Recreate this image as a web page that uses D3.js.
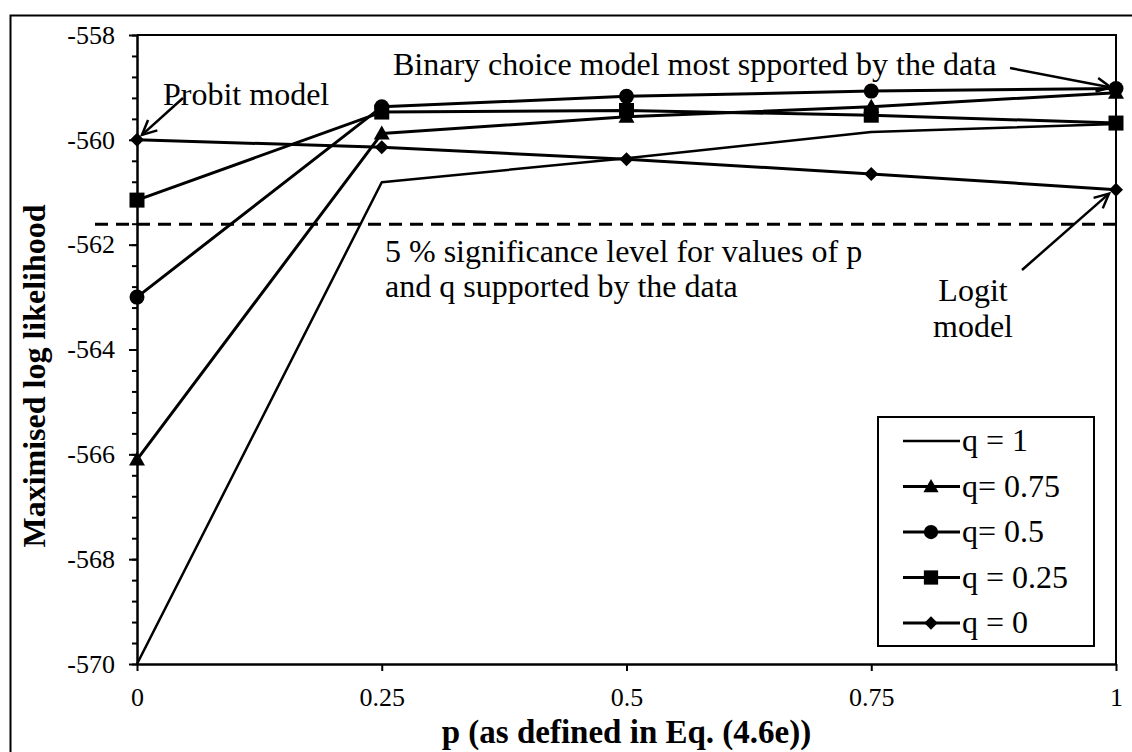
<!DOCTYPE html>
<html>
<head>
<meta charset="utf-8">
<script src="https://cdn.jsdelivr.net/npm/d3@7"></script>
<style>
  html, body { margin: 0; padding: 0; background: #fff; }
  svg { display: block; }
  text { font-family: "Liberation Serif", "Times New Roman", serif; fill: #000; }
</style>
</head>
<body>
<svg id="chart" width="1132" height="752"></svg>
<script>
// p values along the horizontal axis and tick labels
const pValues = [0, 0.25, 0.5, 0.75, 1];
const xTickLabels = ["0", "0.25", "0.5", "0.75", "1"];
const yTickValues = [-558, -560, -562, -564, -566, -568, -570];
const yTickLabels = ["-558", "-560", "-562", "-564", "-566", "-568", "-570"];

// maximised log likelihood for each q
const seriesNames = ["q = 1", "q= 0.75", "q= 0.5", "q = 0.25", "q = 0"];
const seriesMarkers = ["none", "triangle", "circle", "square", "diamond"];
const llQ1   = [-570.0, -560.81, -560.35, -559.85, -559.70];
const llQ075 = [-566.1, -559.88, -559.56, -559.37, -559.10];
const llQ05  = [-563.0, -559.37, -559.17, -559.07, -559.02];
const llQ025 = [-561.15, -559.47, -559.44, -559.53, -559.68];
const llQ0   = [-560.0, -560.14, -560.37, -560.65, -560.95];

// 5 % significance threshold
const significanceLevel = -561.61;

const seriesValues = [llQ1, llQ075, llQ05, llQ025, llQ0];

const svg = d3.select("#chart");
const W = 1132, H = 752;
const plotL = 137, plotR = 1116, plotT = 35, plotB = 664;

const x = d3.scaleLinear().domain([0, 1]).range([plotL, plotR]);
const y = d3.scaleLinear().domain([-570, -558]).range([plotB, plotT]);

// outer frame
svg.append("path")
  .attr("d", `M10.5,${H} V15.5 H${W}`)
  .attr("fill", "none").attr("stroke", "#000").attr("stroke-width", 2);

// plot box: top and right edges
svg.append("path")
  .attr("d", `M${plotL},${plotT} H${plotR} V${plotB}`)
  .attr("fill", "none").attr("stroke", "#000").attr("stroke-width", 2);

// dashed significance line
svg.append("line")
  .attr("x1", 95).attr("x2", plotR)
  .attr("y1", y(significanceLevel)).attr("y2", y(significanceLevel))
  .attr("stroke", "#000").attr("stroke-width", 3)
  .attr("stroke-dasharray", "13,8");

// minor y ticks
const minorTicks = d3.range(0, 31).map(i => -570 + i * 0.4);
svg.append("g")
  .attr("transform", `translate(${plotL},0)`)
  .call(d3.axisLeft(y).tickValues(minorTicks).tickSize(5).tickSizeOuter(0).tickFormat(""))
  .call(g => g.select(".domain").remove())
  .call(g => g.selectAll("line").attr("stroke-width", 2).attr("x2", -5).attr("x1", 1));

// y axis
svg.append("g")
  .attr("transform", `translate(${plotL},0)`)
  .call(d3.axisLeft(y).tickValues(yTickValues).tickSize(8).tickSizeOuter(0)
    .tickFormat((d, i) => yTickLabels[i]).tickPadding(14))
  .call(g => g.select(".domain").attr("stroke-width", 2.5))
  .call(g => g.selectAll("line").attr("stroke-width", 2).attr("x1", 1))
  .call(g => g.selectAll("text")
    .style("font-family", "Liberation Serif").style("font-size", "26px"));

// x axis
svg.append("g")
  .attr("transform", `translate(0,${plotB})`)
  .call(d3.axisBottom(x).tickValues(pValues).tickSize(7).tickSizeOuter(0)
    .tickFormat((d, i) => xTickLabels[i]).tickPadding(17))
  .call(g => g.select(".domain").attr("stroke-width", 2.5))
  .call(g => g.selectAll("line").attr("stroke-width", 2))
  .call(g => g.selectAll("text")
    .style("font-family", "Liberation Serif").style("font-size", "26px"));

// axis titles
svg.append("text")
  .attr("x", (plotL + plotR) / 2).attr("y", 743)
  .attr("text-anchor", "middle")
  .style("font-size", "33px").style("font-weight", "bold")
  .text("p (as defined in Eq. (4.6e))");

svg.append("text")
  .attr("transform", `translate(45,376) rotate(-90)`)
  .attr("text-anchor", "middle")
  .style("font-size", "32px").style("font-weight", "bold")
  .text("Maximised log likelihood");

// marker drawing
function drawMarker(g, type, cx, cy, scale) {
  const s = scale || 1;
  if (type === "circle") {
    g.append("circle").attr("cx", cx).attr("cy", cy).attr("r", 7.5 * s).attr("fill", "#000");
  } else if (type === "square") {
    const h = 7.5 * s;
    g.append("rect").attr("x", cx - h).attr("y", cy - h).attr("width", 2 * h).attr("height", 2 * h).attr("fill", "#000");
  } else if (type === "triangle") {
    const h = 8 * s;
    g.append("path").attr("d", `M${cx},${cy - h} L${cx + h},${cy + h * 0.75} L${cx - h},${cy + h * 0.75} Z`).attr("fill", "#000");
  } else if (type === "diamond") {
    const h = 7 * s;
    g.append("path").attr("d", `M${cx},${cy - h} L${cx + h},${cy} L${cx},${cy + h} L${cx - h},${cy} Z`).attr("fill", "#000");
  }
}

const line = d3.line().x((d, i) => x(pValues[i])).y(d => y(d));

const plot = svg.append("g");
seriesValues.forEach((vals, k) => {
  plot.append("path")
    .attr("d", line(vals))
    .attr("fill", "none").attr("stroke", "#000")
    .attr("stroke-width", k === 0 ? 2.5 : 3)
    .attr("stroke-linejoin", "round");
});
seriesValues.forEach((vals, k) => {
  vals.forEach((v, i) => drawMarker(plot, seriesMarkers[k], x(pValues[i]), y(v)));
});

// arrow with open head
function arrow(x1, y1, x2, y2) {
  const g = svg.append("g").attr("stroke", "#000").attr("stroke-width", 2.5).attr("fill", "none");
  g.append("line").attr("x1", x1).attr("y1", y1).attr("x2", x2).attr("y2", y2);
  const a = Math.atan2(y2 - y1, x2 - x1), len = 16, spread = 0.45;
  g.append("path").attr("d",
    `M${x2 - len * Math.cos(a - spread)},${y2 - len * Math.sin(a - spread)} L${x2},${y2} L${x2 - len * Math.cos(a + spread)},${y2 - len * Math.sin(a + spread)}`);
}

// annotations
const ann = svg.append("g").style("font-size", "32px");
ann.append("text").attr("x", 163).attr("y", 105).text("Probit model");
arrow(183, 98, x(0) + 5, y(llQ0[0]) - 5);

ann.append("text").attr("x", 393).attr("y", 75).text("Binary choice model most spported by the data");
arrow(1010, 68, x(1) - 5, y(llQ05[4]) - 1);

ann.append("text").attr("x", 385).attr("y", 262).text("5 % significance level for values of p");
ann.append("text").attr("x", 385).attr("y", 297).text("and q supported by the data");

ann.append("text").attr("x", 973).attr("y", 301).attr("text-anchor", "middle").text("Logit");
ann.append("text").attr("x", 973).attr("y", 337).attr("text-anchor", "middle").text("model");
arrow(1022, 270, x(1) - 7, y(llQ0[4]) + 4);

// legend
const lg = svg.append("g");
lg.append("rect").attr("x", 878).attr("y", 417).attr("width", 216).attr("height", 229)
  .attr("fill", "#fff").attr("stroke", "#000").attr("stroke-width", 2);
seriesNames.forEach((name, k) => {
  const cy = 441 + k * 45.5;
  lg.append("line").attr("x1", 903).attr("x2", 960).attr("y1", cy).attr("y2", cy)
    .attr("stroke", "#000").attr("stroke-width", k === 0 ? 2.5 : 3);
  drawMarker(lg, seriesMarkers[k], 931, cy, 0.95);
  lg.append("text").attr("x", 962).attr("y", cy + 10).style("font-size", "32px").text(name);
});
</script>
</body>
</html>
